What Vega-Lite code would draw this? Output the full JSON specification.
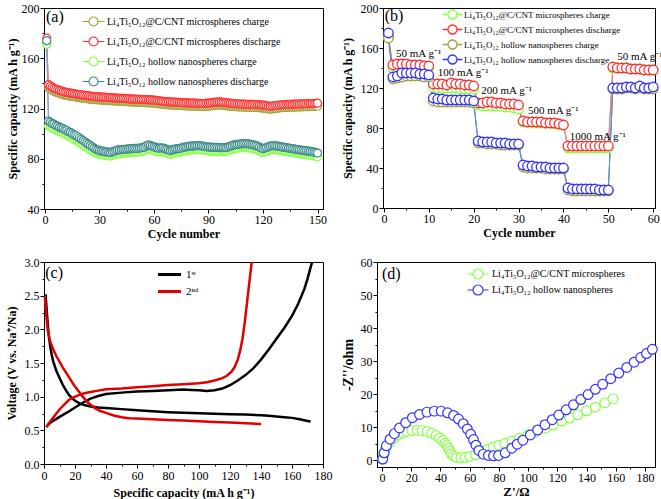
{
"$schema":"https://vega.github.io/schema/vega-lite/v6.json",
"padding":{"left":4,"top":1,"right":2,"bottom":0},
"background":"white",
"config":{
 "font":"Liberation Serif",
 "view":{"stroke":"black","strokeWidth":1},
 "axis":{"labelFont":"Liberation Serif","labelFontSize":12,"labelColor":"black","titleFont":"Liberation Serif","titleFontSize":12,"titleFontWeight":"bold","titleColor":"black","domainColor":"black","tickColor":"black","tickSize":4,"grid":false,"labelPadding":1,"labelOverlap":false,"labelFlush":false},
 "legend":{"labelFont":"Liberation Serif","labelColor":"black","padding":0,"orient":"none","title":null,"symbolFillColor":"white","symbolOpacity":1,"labelLimit":400}
},
"resolve":{"scale":{"color":"independent","stroke":"independent"},"legend":{"color":"independent","stroke":"independent"}},
"datasets":{
"a":[
{"n":1,"a":172,"b":176,"c":171,"d":174},{"n":2,"a":136.5,"b":139,"c":106,"d":110},{"n":3,"a":135.5,"b":138,"c":105.5,"d":109},{"n":4,"a":134.5,"b":137,"c":104.5,"d":108},{"n":5,"a":133.5,"b":136,"c":104,"d":107.5},{"n":6,"a":133,"b":135.5,"c":103,"d":106.5},{"n":7,"a":132.5,"b":135,"c":102.5,"d":106},{"n":8,"a":132,"b":134.5,"c":101.5,"d":105},{"n":9,"a":131.5,"b":134,"c":101,"d":104.5},{"n":10,"a":131,"b":133.5,"c":100.5,"d":104},
{"n":11,"a":130.6,"b":133,"c":99.5,"d":103},{"n":12,"a":130.4,"b":132.8,"c":99,"d":102.5},{"n":13,"a":130.1,"b":132.5,"c":98,"d":101.5},{"n":14,"a":129.8,"b":132.2,"c":97.5,"d":101},{"n":15,"a":129.6,"b":132,"c":96.5,"d":100},{"n":16,"a":129.4,"b":131.8,"c":95.5,"d":99},{"n":17,"a":129.1,"b":131.5,"c":95,"d":98.5},{"n":18,"a":128.9,"b":131.3,"c":94,"d":97.5},{"n":19,"a":128.6,"b":131,"c":93,"d":96.5},{"n":20,"a":128.4,"b":130.8,"c":92,"d":95.5},
{"n":21,"a":128.2,"b":130.6,"c":91,"d":94.5},{"n":22,"a":128,"b":130.4,"c":90,"d":93.5},{"n":23,"a":127.8,"b":130.2,"c":89,"d":92.5},{"n":24,"a":127.6,"b":130,"c":88,"d":91.5},{"n":25,"a":127.4,"b":129.8,"c":87,"d":90.5},{"n":26,"a":127.2,"b":129.6,"c":86.2,"d":89.5},{"n":27,"a":127.1,"b":129.5,"c":85.5,"d":88.5},{"n":28,"a":127,"b":129.4,"c":84.6,"d":87.5},{"n":29,"a":126.9,"b":129.3,"c":84,"d":87},{"n":30,"a":126.8,"b":129.2,"c":83.5,"d":86.5},
{"n":31,"a":126.7,"b":129.1,"c":83.2,"d":86},{"n":32,"a":126.6,"b":129,"c":83,"d":86},{"n":33,"a":126.5,"b":128.9,"c":82.7,"d":85.5},{"n":34,"a":126.4,"b":128.8,"c":82.5,"d":85.5},{"n":35,"a":126.3,"b":128.7,"c":82.2,"d":85},{"n":36,"a":126.2,"b":128.6,"c":82.2,"d":85},{"n":37,"a":126.1,"b":128.5,"c":82.5,"d":85.5},{"n":38,"a":126,"b":128.4,"c":83,"d":86},{"n":39,"a":125.9,"b":128.3,"c":83.5,"d":86.5},{"n":40,"a":125.8,"b":128.2,"c":84,"d":87},
{"n":41,"a":125.7,"b":128.1,"c":84,"d":87},{"n":42,"a":125.6,"b":128,"c":84.3,"d":87.3},{"n":43,"a":125.6,"b":128,"c":84.5,"d":87.5},{"n":44,"a":125.5,"b":127.9,"c":84.5,"d":87.5},{"n":45,"a":125.4,"b":127.8,"c":84.6,"d":87.6},{"n":46,"a":125.3,"b":127.7,"c":84.8,"d":87.8},{"n":47,"a":125.2,"b":127.6,"c":85,"d":88},{"n":48,"a":125.1,"b":127.5,"c":85,"d":88},{"n":49,"a":125.1,"b":127.5,"c":85.2,"d":88.2},{"n":50,"a":125,"b":127.4,"c":85.2,"d":88.2},
{"n":51,"a":124.9,"b":127.3,"c":85.3,"d":88.3},{"n":52,"a":124.8,"b":127.2,"c":85.5,"d":88.5},{"n":53,"a":124.8,"b":127.2,"c":85.7,"d":88.7},{"n":54,"a":124.7,"b":127.1,"c":86,"d":89},{"n":55,"a":124.6,"b":127,"c":86.5,"d":89.5},{"n":56,"a":124.6,"b":127,"c":87.5,"d":90.5},{"n":57,"a":124.5,"b":126.9,"c":88,"d":91},{"n":58,"a":124.4,"b":126.8,"c":87.5,"d":90.5},{"n":59,"a":124.4,"b":126.8,"c":87,"d":90},{"n":60,"a":124.3,"b":126.7,"c":86.5,"d":89.5},
{"n":61,"a":124.1,"b":126.5,"c":86,"d":89},{"n":62,"a":123.9,"b":126.3,"c":85.5,"d":88.5},{"n":63,"a":123.7,"b":126.1,"c":85.5,"d":88.5},{"n":64,"a":123.5,"b":125.9,"c":85.7,"d":88.7},{"n":65,"a":123.3,"b":125.7,"c":85.5,"d":88.5},{"n":66,"a":123.1,"b":125.5,"c":85,"d":88},{"n":67,"a":123,"b":125.4,"c":84.5,"d":87.5},{"n":68,"a":122.9,"b":125.3,"c":84,"d":87},{"n":69,"a":122.8,"b":125.2,"c":83.5,"d":86.5},{"n":70,"a":122.7,"b":125.1,"c":84,"d":87},
{"n":71,"a":122.6,"b":125,"c":84.5,"d":87.5},{"n":72,"a":122.6,"b":125,"c":84.8,"d":87.8},{"n":73,"a":122.5,"b":124.9,"c":85,"d":88},{"n":74,"a":122.4,"b":124.8,"c":85.3,"d":88.3},{"n":75,"a":122.3,"b":124.7,"c":85.5,"d":88.5},{"n":76,"a":122.2,"b":124.6,"c":86,"d":89},{"n":77,"a":122.1,"b":124.5,"c":86.3,"d":89.3},{"n":78,"a":122.1,"b":124.5,"c":86.5,"d":89.5},{"n":79,"a":122,"b":124.4,"c":86.8,"d":89.8},{"n":80,"a":121.9,"b":124.3,"c":87,"d":90},
{"n":81,"a":121.9,"b":124.3,"c":87,"d":90},{"n":82,"a":121.8,"b":124.2,"c":87.2,"d":90.2},{"n":83,"a":121.8,"b":124.2,"c":87.4,"d":90.4},{"n":84,"a":121.7,"b":124.1,"c":87.5,"d":90.5},{"n":85,"a":121.7,"b":124.1,"c":87.5,"d":90.5},{"n":86,"a":121.6,"b":124,"c":87.3,"d":90.3},{"n":87,"a":121.6,"b":124,"c":87,"d":90},{"n":88,"a":121.6,"b":124,"c":86.7,"d":89.7},{"n":89,"a":121.8,"b":124.2,"c":86.5,"d":89.5},{"n":90,"a":121.9,"b":124.3,"c":86.3,"d":89.3},
{"n":91,"a":122,"b":124.4,"c":86.2,"d":89.2},{"n":92,"a":122.2,"b":124.6,"c":86,"d":89},{"n":93,"a":122.4,"b":124.8,"c":86,"d":89},{"n":94,"a":122.6,"b":125,"c":86,"d":89},{"n":95,"a":122.7,"b":125.1,"c":86,"d":89},{"n":96,"a":122.8,"b":125.2,"c":85.8,"d":88.8},{"n":97,"a":122.7,"b":125.1,"c":85.8,"d":88.8},{"n":98,"a":122.5,"b":124.9,"c":85.8,"d":88.8},{"n":99,"a":122.3,"b":124.7,"c":85.9,"d":88.9},{"n":100,"a":122.1,"b":124.5,"c":86,"d":89},
{"n":101,"a":121.9,"b":124.3,"c":86.5,"d":89.5},{"n":102,"a":121.8,"b":124.2,"c":87,"d":90},{"n":103,"a":121.6,"b":124,"c":87.5,"d":90.5},{"n":104,"a":121.5,"b":123.9,"c":88,"d":91},{"n":105,"a":121.4,"b":123.8,"c":88.3,"d":91.3},{"n":106,"a":121.3,"b":123.7,"c":88.5,"d":91.5},{"n":107,"a":121.2,"b":123.6,"c":88.7,"d":91.7},{"n":108,"a":121.2,"b":123.6,"c":88.8,"d":91.8},{"n":109,"a":121.1,"b":123.5,"c":89,"d":92},{"n":110,"a":121.1,"b":123.5,"c":89,"d":92},
{"n":111,"a":121,"b":123.4,"c":89,"d":92},{"n":112,"a":121,"b":123.4,"c":88.8,"d":91.8},{"n":113,"a":120.9,"b":123.3,"c":88.5,"d":91.5},{"n":114,"a":120.9,"b":123.3,"c":88.2,"d":91.2},{"n":115,"a":120.8,"b":123.2,"c":88,"d":91},{"n":116,"a":120.8,"b":123.2,"c":87.5,"d":90.5},{"n":117,"a":120.7,"b":123.1,"c":87,"d":90},{"n":118,"a":120.6,"b":123,"c":86.3,"d":89.3},{"n":119,"a":120.5,"b":122.9,"c":85.5,"d":88.5},{"n":120,"a":120.3,"b":122.7,"c":85,"d":88},
{"n":121,"a":120.1,"b":122.5,"c":85.5,"d":88.5},{"n":122,"a":119.8,"b":122.2,"c":86,"d":89},{"n":123,"a":119.6,"b":122,"c":86.5,"d":89.5},{"n":124,"a":119.4,"b":121.8,"c":87,"d":90},{"n":125,"a":119.6,"b":122,"c":87.5,"d":90.5},{"n":126,"a":119.8,"b":122.2,"c":87.5,"d":90.5},{"n":127,"a":120,"b":122.4,"c":87.3,"d":90.3},{"n":128,"a":120.2,"b":122.6,"c":87,"d":90},{"n":129,"a":120.4,"b":122.8,"c":86.8,"d":89.8},{"n":130,"a":120.6,"b":123,"c":86.5,"d":89.5},
{"n":131,"a":120.7,"b":123.1,"c":86.2,"d":89.2},{"n":132,"a":120.8,"b":123.2,"c":86,"d":89},{"n":133,"a":120.9,"b":123.3,"c":85.8,"d":88.8},{"n":134,"a":120.9,"b":123.3,"c":85.5,"d":88.5},{"n":135,"a":121,"b":123.4,"c":85.3,"d":88.3},{"n":136,"a":121,"b":123.4,"c":85,"d":88},{"n":137,"a":121.1,"b":123.5,"c":84.8,"d":87.8},{"n":138,"a":121.1,"b":123.5,"c":84.5,"d":87.5},{"n":139,"a":121.2,"b":123.6,"c":84.3,"d":87.3},{"n":140,"a":121.2,"b":123.6,"c":84,"d":87},
{"n":141,"a":121.3,"b":123.7,"c":83.8,"d":86.8},{"n":142,"a":121.3,"b":123.7,"c":83.6,"d":86.6},{"n":143,"a":121.4,"b":123.8,"c":83.4,"d":86.4},{"n":144,"a":121.4,"b":123.8,"c":83.2,"d":86.2},{"n":145,"a":121.5,"b":123.9,"c":83,"d":86},{"n":146,"a":121.5,"b":123.9,"c":82.8,"d":85.8},{"n":147,"a":121.6,"b":124,"c":82.6,"d":85.6},{"n":148,"a":121.6,"b":124,"c":82.3,"d":85.3},{"n":149,"a":121.7,"b":124.1,"c":82,"d":85},{"n":150,"a":121.8,"b":124.2,"c":81.5,"d":84.5}
],
"b":[
{"n":1,"a":170,"b":171,"c":170,"d":175},{"n":2,"a":140,"b":143,"c":129,"d":131},{"n":3,"a":141,"b":144,"c":130,"d":132},{"n":4,"a":141,"b":144,"c":131,"d":135},{"n":5,"a":141,"b":144,"c":132,"d":135},{"n":6,"a":141,"b":143,"c":132,"d":135},{"n":7,"a":140,"b":143,"c":132,"d":135},{"n":8,"a":140,"b":143,"c":132,"d":134},{"n":9,"a":140,"b":142,"c":131,"d":134},{"n":10,"a":140,"b":142,"c":131,"d":133},
{"n":11,"a":121,"b":124,"c":107,"d":110},{"n":12,"a":120,"b":124,"c":106,"d":109},{"n":13,"a":120,"b":124,"c":106,"d":109},{"n":14,"a":120,"b":123,"c":106,"d":108},{"n":15,"a":120,"b":125,"c":106,"d":108},{"n":16,"a":120,"b":124,"c":106,"d":108},{"n":17,"a":119,"b":124,"c":106,"d":108},{"n":18,"a":119,"b":123,"c":106,"d":108},{"n":19,"a":119,"b":123,"c":106,"d":108},{"n":20,"a":119,"b":122,"c":105,"d":107},
{"n":21,"a":103,"b":105,"c":65,"d":67},{"n":22,"a":102,"b":105,"c":65,"d":66},{"n":23,"a":102,"b":106,"c":64,"d":66},{"n":24,"a":102,"b":106,"c":64,"d":66},{"n":25,"a":102,"b":105,"c":64,"d":65},{"n":26,"a":102,"b":105,"c":63,"d":65},{"n":27,"a":101,"b":104,"c":63,"d":65},{"n":28,"a":101,"b":104,"c":63,"d":64},{"n":29,"a":100,"b":104,"c":63,"d":64},{"n":30,"a":99,"b":103,"c":63,"d":64},
{"n":31,"a":86,"b":87,"c":41,"d":43},{"n":32,"a":86,"b":86,"c":40,"d":42},{"n":33,"a":86,"b":86,"c":40,"d":42},{"n":34,"a":85,"b":86,"c":40,"d":41},{"n":35,"a":85,"b":86,"c":40,"d":41},{"n":36,"a":85,"b":85,"c":39,"d":41},{"n":37,"a":85,"b":85,"c":39,"d":40},{"n":38,"a":84,"b":85,"c":39,"d":40},{"n":39,"a":84,"b":84,"c":39,"d":40},{"n":40,"a":83,"b":83,"c":39,"d":40},
{"n":41,"a":60,"b":62,"c":18,"d":20},{"n":42,"a":60,"b":62,"c":17,"d":19},{"n":43,"a":60,"b":62,"c":17,"d":19},{"n":44,"a":60,"b":62,"c":17,"d":19},{"n":45,"a":60,"b":62,"c":17,"d":19},{"n":46,"a":60,"b":62,"c":17,"d":19},{"n":47,"a":60,"b":62,"c":17,"d":19},{"n":48,"a":60,"b":62,"c":17,"d":18},{"n":49,"a":60,"b":62,"c":17,"d":18},{"n":50,"a":60,"b":62,"c":17,"d":18},
{"n":51,"a":140,"b":141,"c":119,"d":120},{"n":52,"a":140,"b":140,"c":119,"d":120},{"n":53,"a":140,"b":140,"c":119,"d":120},{"n":54,"a":140,"b":140,"c":120,"d":121},{"n":55,"a":139,"b":139,"c":120,"d":121},{"n":56,"a":139,"b":139,"c":119,"d":120},{"n":57,"a":139,"b":139,"c":120,"d":122},{"n":58,"a":138,"b":138,"c":119,"d":120},{"n":59,"a":138,"b":138,"c":119,"d":120},{"n":60,"a":138,"b":138,"c":119,"d":121}
],
"c":[
{"s":"1ˢᵗ","g":"1d","x":1,"y":2.52},{"s":"1ˢᵗ","g":"1d","x":2,"y":2.2},{"s":"1ˢᵗ","g":"1d","x":3,"y":1.92},{"s":"1ˢᵗ","g":"1d","x":4,"y":1.75},{"s":"1ˢᵗ","g":"1d","x":5,"y":1.62},{"s":"1ˢᵗ","g":"1d","x":6,"y":1.52},{"s":"1ˢᵗ","g":"1d","x":8,"y":1.38},{"s":"1ˢᵗ","g":"1d","x":10,"y":1.28},{"s":"1ˢᵗ","g":"1d","x":12,"y":1.18},{"s":"1ˢᵗ","g":"1d","x":14,"y":1.1},{"s":"1ˢᵗ","g":"1d","x":16,"y":1.03},{"s":"1ˢᵗ","g":"1d","x":18,"y":0.98},{"s":"1ˢᵗ","g":"1d","x":20,"y":0.94},{"s":"1ˢᵗ","g":"1d","x":23,"y":0.9},{"s":"1ˢᵗ","g":"1d","x":26,"y":0.875},{"s":"1ˢᵗ","g":"1d","x":30,"y":0.855},{"s":"1ˢᵗ","g":"1d","x":35,"y":0.84},{"s":"1ˢᵗ","g":"1d","x":40,"y":0.83},{"s":"1ˢᵗ","g":"1d","x":50,"y":0.815},{"s":"1ˢᵗ","g":"1d","x":60,"y":0.8},{"s":"1ˢᵗ","g":"1d","x":70,"y":0.785},{"s":"1ˢᵗ","g":"1d","x":80,"y":0.77},{"s":"1ˢᵗ","g":"1d","x":90,"y":0.76},{"s":"1ˢᵗ","g":"1d","x":100,"y":0.755},{"s":"1ˢᵗ","g":"1d","x":110,"y":0.745},{"s":"1ˢᵗ","g":"1d","x":120,"y":0.74},{"s":"1ˢᵗ","g":"1d","x":130,"y":0.735},{"s":"1ˢᵗ","g":"1d","x":140,"y":0.725},{"s":"1ˢᵗ","g":"1d","x":145,"y":0.715},{"s":"1ˢᵗ","g":"1d","x":150,"y":0.705},{"s":"1ˢᵗ","g":"1d","x":155,"y":0.695},{"s":"1ˢᵗ","g":"1d","x":160,"y":0.685},{"s":"1ˢᵗ","g":"1d","x":165,"y":0.665},{"s":"1ˢᵗ","g":"1d","x":170,"y":0.64},{"s":"1ˢᵗ","g":"1d","x":172,"y":0.63},
{"s":"1ˢᵗ","g":"1c","x":1.5,"y":0.55},{"s":"1ˢᵗ","g":"1c","x":3,"y":0.59},{"s":"1ˢᵗ","g":"1c","x":5,"y":0.63},{"s":"1ˢᵗ","g":"1c","x":8,"y":0.67},{"s":"1ˢᵗ","g":"1c","x":10,"y":0.7},{"s":"1ˢᵗ","g":"1c","x":13,"y":0.74},{"s":"1ˢᵗ","g":"1c","x":16,"y":0.78},{"s":"1ˢᵗ","g":"1c","x":20,"y":0.84},{"s":"1ˢᵗ","g":"1c","x":25,"y":0.91},{"s":"1ˢᵗ","g":"1c","x":30,"y":0.97},{"s":"1ˢᵗ","g":"1c","x":35,"y":1.01},{"s":"1ˢᵗ","g":"1c","x":40,"y":1.04},{"s":"1ˢᵗ","g":"1c","x":50,"y":1.06},{"s":"1ˢᵗ","g":"1c","x":60,"y":1.075},{"s":"1ˢᵗ","g":"1c","x":70,"y":1.085},{"s":"1ˢᵗ","g":"1c","x":80,"y":1.095},{"s":"1ˢᵗ","g":"1c","x":90,"y":1.105},{"s":"1ˢᵗ","g":"1c","x":95,"y":1.1},{"s":"1ˢᵗ","g":"1c","x":100,"y":1.095},{"s":"1ˢᵗ","g":"1c","x":105,"y":1.085},{"s":"1ˢᵗ","g":"1c","x":110,"y":1.095},{"s":"1ˢᵗ","g":"1c","x":115,"y":1.12},{"s":"1ˢᵗ","g":"1c","x":120,"y":1.17},{"s":"1ˢᵗ","g":"1c","x":125,"y":1.24},{"s":"1ˢᵗ","g":"1c","x":130,"y":1.32},{"s":"1ˢᵗ","g":"1c","x":135,"y":1.42},{"s":"1ˢᵗ","g":"1c","x":140,"y":1.55},{"s":"1ˢᵗ","g":"1c","x":145,"y":1.7},{"s":"1ˢᵗ","g":"1c","x":150,"y":1.86},{"s":"1ˢᵗ","g":"1c","x":155,"y":2.02},{"s":"1ˢᵗ","g":"1c","x":160,"y":2.2},{"s":"1ˢᵗ","g":"1c","x":164,"y":2.38},{"s":"1ˢᵗ","g":"1c","x":168,"y":2.6},{"s":"1ˢᵗ","g":"1c","x":170,"y":2.75},{"s":"1ˢᵗ","g":"1c","x":172,"y":2.92},{"s":"1ˢᵗ","g":"1c","x":173,"y":3.0},
{"s":"2ⁿᵈ","g":"2d","x":0.5,"y":2.5},{"s":"2ⁿᵈ","g":"2d","x":1.5,"y":2.2},{"s":"2ⁿᵈ","g":"2d","x":2.5,"y":1.98},{"s":"2ⁿᵈ","g":"2d","x":4,"y":1.82},{"s":"2ⁿᵈ","g":"2d","x":6,"y":1.7},{"s":"2ⁿᵈ","g":"2d","x":8,"y":1.6},{"s":"2ⁿᵈ","g":"2d","x":10,"y":1.52},{"s":"2ⁿᵈ","g":"2d","x":12,"y":1.44},{"s":"2ⁿᵈ","g":"2d","x":15,"y":1.33},{"s":"2ⁿᵈ","g":"2d","x":18,"y":1.22},{"s":"2ⁿᵈ","g":"2d","x":20,"y":1.15},{"s":"2ⁿᵈ","g":"2d","x":22,"y":1.09},{"s":"2ⁿᵈ","g":"2d","x":25,"y":1.0},{"s":"2ⁿᵈ","g":"2d","x":28,"y":0.92},{"s":"2ⁿᵈ","g":"2d","x":30,"y":0.88},{"s":"2ⁿᵈ","g":"2d","x":33,"y":0.83},{"s":"2ⁿᵈ","g":"2d","x":36,"y":0.79},{"s":"2ⁿᵈ","g":"2d","x":40,"y":0.76},{"s":"2ⁿᵈ","g":"2d","x":45,"y":0.72},{"s":"2ⁿᵈ","g":"2d","x":50,"y":0.695},{"s":"2ⁿᵈ","g":"2d","x":55,"y":0.68},{"s":"2ⁿᵈ","g":"2d","x":60,"y":0.675},{"s":"2ⁿᵈ","g":"2d","x":70,"y":0.665},{"s":"2ⁿᵈ","g":"2d","x":80,"y":0.655},{"s":"2ⁿᵈ","g":"2d","x":90,"y":0.645},{"s":"2ⁿᵈ","g":"2d","x":100,"y":0.635},{"s":"2ⁿᵈ","g":"2d","x":110,"y":0.625},{"s":"2ⁿᵈ","g":"2d","x":120,"y":0.615},{"s":"2ⁿᵈ","g":"2d","x":130,"y":0.605},{"s":"2ⁿᵈ","g":"2d","x":140,"y":0.595},
{"s":"2ⁿᵈ","g":"2c","x":1.5,"y":0.55},{"s":"2ⁿᵈ","g":"2c","x":3,"y":0.6},{"s":"2ⁿᵈ","g":"2c","x":5,"y":0.66},{"s":"2ⁿᵈ","g":"2c","x":8,"y":0.75},{"s":"2ⁿᵈ","g":"2c","x":10,"y":0.81},{"s":"2ⁿᵈ","g":"2c","x":13,"y":0.88},{"s":"2ⁿᵈ","g":"2c","x":16,"y":0.95},{"s":"2ⁿᵈ","g":"2c","x":18,"y":0.98},{"s":"2ⁿᵈ","g":"2c","x":22,"y":1.02},{"s":"2ⁿᵈ","g":"2c","x":26,"y":1.05},{"s":"2ⁿᵈ","g":"2c","x":30,"y":1.07},{"s":"2ⁿᵈ","g":"2c","x":35,"y":1.09},{"s":"2ⁿᵈ","g":"2c","x":40,"y":1.11},{"s":"2ⁿᵈ","g":"2c","x":50,"y":1.12},{"s":"2ⁿᵈ","g":"2c","x":60,"y":1.14},{"s":"2ⁿᵈ","g":"2c","x":70,"y":1.155},{"s":"2ⁿᵈ","g":"2c","x":80,"y":1.175},{"s":"2ⁿᵈ","g":"2c","x":90,"y":1.185},{"s":"2ⁿᵈ","g":"2c","x":100,"y":1.2},{"s":"2ⁿᵈ","g":"2c","x":105,"y":1.215},{"s":"2ⁿᵈ","g":"2c","x":110,"y":1.24},{"s":"2ⁿᵈ","g":"2c","x":115,"y":1.275},{"s":"2ⁿᵈ","g":"2c","x":118,"y":1.31},{"s":"2ⁿᵈ","g":"2c","x":121,"y":1.37},{"s":"2ⁿᵈ","g":"2c","x":123,"y":1.44},{"s":"2ⁿᵈ","g":"2c","x":125,"y":1.55},{"s":"2ⁿᵈ","g":"2c","x":126.5,"y":1.68},{"s":"2ⁿᵈ","g":"2c","x":128,"y":1.85},{"s":"2ⁿᵈ","g":"2c","x":129.5,"y":2.1},{"s":"2ⁿᵈ","g":"2c","x":131,"y":2.4},{"s":"2ⁿᵈ","g":"2c","x":132.5,"y":2.7},{"s":"2ⁿᵈ","g":"2c","x":134,"y":3.0}
],
"d":[
{"s":"g","x":0.5,"y":0.3},{"s":"g","x":1,"y":1.5},{"s":"g","x":2,"y":3},{"s":"g","x":3.5,"y":4.4},{"s":"g","x":5.5,"y":5.7},{"s":"g","x":8,"y":6.8},{"s":"g","x":11,"y":7.7},{"s":"g","x":14,"y":8.3},{"s":"g","x":17,"y":8.7},{"s":"g","x":20.5,"y":9.0},{"s":"g","x":24,"y":9.1},{"s":"g","x":27.5,"y":9.0},{"s":"g","x":31,"y":8.7},{"s":"g","x":34,"y":8.2},{"s":"g","x":37,"y":7.5},{"s":"g","x":39.5,"y":6.8},{"s":"g","x":41.5,"y":6.0},{"s":"g","x":43,"y":5.2},{"s":"g","x":44.5,"y":4.4},{"s":"g","x":45.5,"y":3.6},{"s":"g","x":46.5,"y":2.8},{"s":"g","x":47.5,"y":2.0},{"s":"g","x":49,"y":1.3},{"s":"g","x":51,"y":0.9},{"s":"g","x":54,"y":0.8},{"s":"g","x":57,"y":0.9},{"s":"g","x":60,"y":1.2},{"s":"g","x":64,"y":1.7},{"s":"g","x":68,"y":2.5},{"s":"g","x":72,"y":3.3},{"s":"g","x":76,"y":4.0},{"s":"g","x":80,"y":4.6},{"s":"g","x":84,"y":5.1},{"s":"g","x":89,"y":5.8},{"s":"g","x":94,"y":6.7},{"s":"g","x":100,"y":7.8},{"s":"g","x":106,"y":8.8},{"s":"g","x":112,"y":9.8},{"s":"g","x":117,"y":10.7},{"s":"g","x":123,"y":11.9},{"s":"g","x":128.5,"y":12.8},{"s":"g","x":134,"y":13.8},{"s":"g","x":140,"y":15.0},{"s":"g","x":146,"y":16.1},{"s":"g","x":152.5,"y":17.4},{"s":"g","x":158,"y":18.6},
{"s":"b","x":0.5,"y":0.4},{"s":"b","x":1.5,"y":2.3},{"s":"b","x":3,"y":4.4},{"s":"b","x":5.5,"y":6.4},{"s":"b","x":8.5,"y":8.1},{"s":"b","x":12,"y":9.8},{"s":"b","x":16.2,"y":11.4},{"s":"b","x":20.8,"y":12.9},{"s":"b","x":25.7,"y":13.9},{"s":"b","x":30.8,"y":14.6},{"s":"b","x":35.8,"y":14.9},{"s":"b","x":40.5,"y":14.9},{"s":"b","x":44.9,"y":14.4},{"s":"b","x":49,"y":13.6},{"s":"b","x":52.4,"y":12.5},{"s":"b","x":55.6,"y":11.1},{"s":"b","x":58.4,"y":9.5},{"s":"b","x":60.7,"y":7.9},{"s":"b","x":62.6,"y":6.3},{"s":"b","x":64.3,"y":4.6},{"s":"b","x":66.3,"y":3.0},{"s":"b","x":69.3,"y":1.9},{"s":"b","x":72.8,"y":1.5},{"s":"b","x":76.3,"y":1.4},{"s":"b","x":79.8,"y":1.5},{"s":"b","x":84.3,"y":2.3},{"s":"b","x":88.8,"y":3.7},{"s":"b","x":92.5,"y":4.9},{"s":"b","x":96.4,"y":6.1},{"s":"b","x":101.5,"y":7.7},{"s":"b","x":106.5,"y":9.2},{"s":"b","x":111.5,"y":10.8},{"s":"b","x":116.5,"y":12.3},{"s":"b","x":121,"y":13.7},{"s":"b","x":126,"y":15.3},{"s":"b","x":131,"y":16.8},{"s":"b","x":136,"y":18.4},{"s":"b","x":141,"y":19.9},{"s":"b","x":146,"y":21.5},{"s":"b","x":151,"y":23.0},{"s":"b","x":156.5,"y":24.7},{"s":"b","x":162,"y":26.4},{"s":"b","x":167.5,"y":28.1},{"s":"b","x":172.5,"y":29.7},{"s":"b","x":177,"y":31.1},{"s":"b","x":181,"y":32.3},{"s":"b","x":185,"y":33.6}
]
},
"vconcat":[
{"hconcat":[
{"width":279,"height":201,
 "resolve":{"axis":{"x":"independent","y":"independent"}},
 "layer":[
 {"data":{"name":"a"},"transform":[{"fold":["a","b","c","d"],"as":["k","v"]}],
  "mark":{"type":"line","strokeWidth":1},
  "encoding":{
   "x":{"field":"n","type":"quantitative","scale":{"domain":[-0.5,153],"nice":false},"axis":{"values":[0,30,60,90,120,150],"title":"Cycle number","titlePadding":3}},
   "y":{"field":"v","type":"quantitative","scale":{"domain":[40,200],"nice":false},"axis":{"values":[40,80,120,160,200],"title":"Specific capacity (mA h g⁻¹)","titlePadding":2}},
   "color":{"field":"k","type":"nominal","scale":{"domain":["d","c","b","a"],"range":["#80a0c0","#8080ff","#ff8080","#808080"]},"legend":null}}},
 {"data":{"name":"a"},"transform":[{"fold":["a","b","c","d"],"as":["k","v"]}],
  "mark":{"type":"point","shape":"circle","filled":true,"fill":"white","size":64,"strokeWidth":1.2,"opacity":1},
  "encoding":{
   "x":{"field":"n","type":"quantitative","axis":null},
   "y":{"field":"v","type":"quantitative","axis":null},
   "stroke":{"field":"k","type":"nominal","scale":{"domain":["a","b","c","d"],"range":["#a3a33a","#ff3030","#88ff44","#3d8b8b"]},
     "legend":{"legendX":44,"legendY":8,"labelFontSize":10,"rowPadding":5,"labelOffset":8,"symbolType":"M-2.4,0L-1,0M1,0L2.4,0M-1,0C-1,-0.552,-0.552,-1,0,-1C0.552,-1,1,-0.552,1,0C1,0.552,0.552,1,0,1C-0.552,1,-1,0.552,-1,0Z","symbolSize":81,"symbolStrokeWidth":1.2,
       "labelExpr":"{'a':'Li₄Ti₅O₁₂@C/CNT microspheres charge','b':'Li₄Ti₅O₁₂@C/CNT microspheres discharge','c':'Li₄Ti₅O₁₂ hollow nanospheres charge','d':'Li₄Ti₅O₁₂ hollow nanospheres discharge'}[datum.label]"}},
   "order":{"field":"k"}}},
 {"data":{"values":[{"t":"(a)","x":0.6,"y":193}]},
  "mark":{"type":"text","align":"left","baseline":"middle","fontSize":16,"font":"Liberation Serif"},
  "encoding":{"x":{"field":"x","type":"quantitative","axis":{"orient":"bottom","values":[15,45,75,105,135],"labels":false,"domain":false,"tickSize":2,"title":null}},"y":{"field":"y","type":"quantitative","axis":{"orient":"left","values":[60,100,140,180],"labels":false,"domain":false,"tickSize":2,"title":null}},"text":{"field":"t"}}}
 ]},
{"width":272,"height":200,
 "resolve":{"axis":{"x":"independent","y":"independent"}},
 "layer":[
 {"data":{"name":"b"},"transform":[{"fold":["a","b","c","d"],"as":["k","v"]}],
  "mark":{"type":"line","strokeWidth":1},
  "encoding":{
   "x":{"field":"n","type":"quantitative","scale":{"domain":[-0.2,60.4],"nice":false},"axis":{"values":[0,10,20,30,40,50,60],"title":"Cycle number","titlePadding":3}},
   "y":{"field":"v","type":"quantitative","scale":{"domain":[0,200],"nice":false},"axis":{"values":[0,40,80,120,160,200],"title":"Specific capacity (mA h g⁻¹)","titlePadding":6}},
   "color":{"field":"k","type":"nominal","scale":{"domain":["d","c","b","a"],"range":["#60a0a0","#4040ff","#ff8080","#808080"]},"legend":null}}},
 {"data":{"name":"b"},"transform":[{"fold":["a","b","c","d"],"as":["k","v"]}],
  "mark":{"type":"point","shape":"circle","filled":true,"fill":"white","size":90,"strokeWidth":1.3,"opacity":1},
  "encoding":{
   "x":{"field":"n","type":"quantitative","axis":null},
   "y":{"field":"v","type":"quantitative","axis":null},
   "stroke":{"field":"k","type":"nominal","scale":{"domain":["a","b","c","d"],"range":["#88ff44","#ff3030","#a3a33a","#3333ff"]},
     "legend":{"legendX":64,"legendY":1,"labelFontSize":9,"rowPadding":0,"labelOffset":6,"symbolType":"M-2.2,0L-1,0M1,0L2.2,0M-1,0C-1,-0.552,-0.552,-1,0,-1C0.552,-1,1,-0.552,1,0C1,0.552,0.552,1,0,1C-0.552,1,-1,0.552,-1,0Z","symbolSize":81,"symbolStrokeWidth":1.3,
       "labelExpr":"{'a':'Li₄Ti₅O₁₂@C/CNT microspheres charge','b':'Li₄Ti₅O₁₂@C/CNT microspheres discharge','c':'Li₄Ti₅O₁₂ hollow nanospheres charge','d':'Li₄Ti₅O₁₂ hollow nanospheres discharge'}[datum.label]"}},
   "order":{"field":"k"}}},
 {"data":{"values":[{"t":"(b)","x":0.2,"y":192}]},
  "mark":{"type":"text","align":"left","baseline":"middle","fontSize":16,"font":"Liberation Serif"},
  "encoding":{"x":{"field":"x","type":"quantitative","axis":{"orient":"bottom","values":[5,15,25,35,45,55],"labels":false,"domain":false,"tickSize":2,"title":null}},"y":{"field":"y","type":"quantitative","axis":{"orient":"left","values":[20,60,100,140,180],"labels":false,"domain":false,"tickSize":2,"title":null}},"text":{"field":"t"}}},
 {"data":{"values":[{"t":"50 mA g⁻¹","x":2.7,"y":154},{"t":"100 mA g⁻¹","x":12,"y":135.3},{"t":"200 mA g⁻¹","x":21.7,"y":117.3},{"t":"500 mA g⁻¹","x":32.1,"y":97.3},{"t":"1000 mA g⁻¹","x":41.4,"y":70.7},{"t":"50 mA g⁻¹","x":52,"y":150.7}]},
  "mark":{"type":"text","align":"left","baseline":"middle","fontSize":11,"font":"Liberation Serif"},
  "encoding":{"x":{"field":"x","type":"quantitative","axis":null},"y":{"field":"y","type":"quantitative","axis":null},"text":{"field":"t"}}}
 ]}
],"spacing":12,
"resolve":{"scale":{"color":"independent","stroke":"independent"},"legend":{"color":"independent","stroke":"independent"}}},
{"hconcat":[
{"width":279,"height":202,
 "resolve":{"axis":{"x":"independent","y":"independent"}},
 "layer":[
 {"data":{"name":"c"},
  "mark":{"type":"line","strokeWidth":2.5},
  "encoding":{
   "x":{"field":"x","type":"quantitative","scale":{"domain":[0,180],"nice":false},"axis":{"values":[0,20,40,60,80,100,120,140,160,180],"title":"Specific capacity (mA h g⁻¹)","titlePadding":6,"labelPadding":2}},
   "y":{"field":"y","type":"quantitative","scale":{"domain":[0,3],"nice":false},"axis":{"values":[0,0.5,1,1.5,2,2.5,3],"format":".1f","title":"Voltage (V vs. Na⁺/Na)","titlePadding":6}},
   "color":{"field":"s","type":"nominal","scale":{"domain":["1ˢᵗ","2ⁿᵈ"],"range":["#000000","#e00000"]},
     "legend":{"legendX":120,"legendY":7,"labelFontSize":11,"rowPadding":4,"labelOffset":11,"symbolType":"M-4,0L4,0","symbolSize":33,"symbolStrokeWidth":3}},
   "detail":{"field":"g"}}},
 {"data":{"values":[{"t":"(c)","x":0.8,"y":2.83}]},
  "mark":{"type":"text","align":"left","baseline":"middle","fontSize":16,"font":"Liberation Serif"},
  "encoding":{"x":{"field":"x","type":"quantitative","axis":{"orient":"bottom","values":[10,30,50,70,90,110,130,150,170],"labels":false,"domain":false,"tickSize":2,"title":null}},"y":{"field":"y","type":"quantitative","axis":{"orient":"left","values":[0.25,0.75,1.25,1.75,2.25,2.75],"labels":false,"domain":false,"tickSize":2,"title":null}},"text":{"field":"t"}}}
 ]},
{"width":278,"height":205,
 "resolve":{"axis":{"x":"independent","y":"independent"}},
 "layer":[
 {"data":{"name":"d"},
  "mark":{"type":"line","strokeWidth":1},
  "encoding":{
   "x":{"field":"x","type":"quantitative","scale":{"domain":[-3.4,186.8],"nice":false},"axis":{"values":[0,20,40,60,80,100,120,140,160,180],"title":"Z'/Ω","titlePadding":2,"titleFontSize":13}},
   "y":{"field":"y","type":"quantitative","scale":{"domain":[-2,60],"nice":false},"axis":{"values":[0,10,20,30,40,50,60],"title":"-Z''/ohm","titlePadding":5,"titleFontSize":14}},
   "color":{"field":"s","type":"nominal","scale":{"domain":["b","g"],"range":["#ff6060","#808080"]},"legend":null}}},
 {"data":{"name":"d"},
  "mark":{"type":"point","shape":"circle","filled":true,"fill":"white","size":95,"strokeWidth":1.2,"opacity":1},
  "encoding":{
   "x":{"field":"x","type":"quantitative","axis":null},
   "y":{"field":"y","type":"quantitative","axis":null},
   "stroke":{"field":"s","type":"nominal","scale":{"domain":["g","b"],"range":["#88ff44","#3333ff"]},
     "legend":{"legendX":95,"legendY":6,"labelFontSize":10,"rowPadding":0,"labelOffset":8,"symbolType":"M-2.1,0L-1,0M1,0L2.1,0M-1,0C-1,-0.552,-0.552,-1,0,-1C0.552,-1,1,-0.552,1,0C1,0.552,0.552,1,0,1C-0.552,1,-1,0.552,-1,0Z","symbolSize":100,"symbolStrokeWidth":1.2,
       "labelExpr":"{'g':'Li₄Ti₅O₁₂@C/CNT microspheres','b':'Li₄Ti₅O₁₂ hollow nanospheres'}[datum.label]"}}}},
 {"data":{"values":[{"t":"(d)","x":0,"y":56.5}]},
  "mark":{"type":"text","align":"left","baseline":"middle","fontSize":16,"font":"Liberation Serif"},
  "encoding":{"x":{"field":"x","type":"quantitative","axis":{"orient":"bottom","values":[10,30,50,70,90,110,130,150,170],"labels":false,"domain":false,"tickSize":2,"title":null}},"y":{"field":"y","type":"quantitative","axis":{"orient":"left","values":[5,15,25,35,45,55],"labels":false,"domain":false,"tickSize":2,"title":null}},"text":{"field":"t"}}}
 ]}
],"spacing":7,
"resolve":{"scale":{"color":"independent","stroke":"independent"},"legend":{"color":"independent","stroke":"independent"}}}
],
"spacing":15
}
